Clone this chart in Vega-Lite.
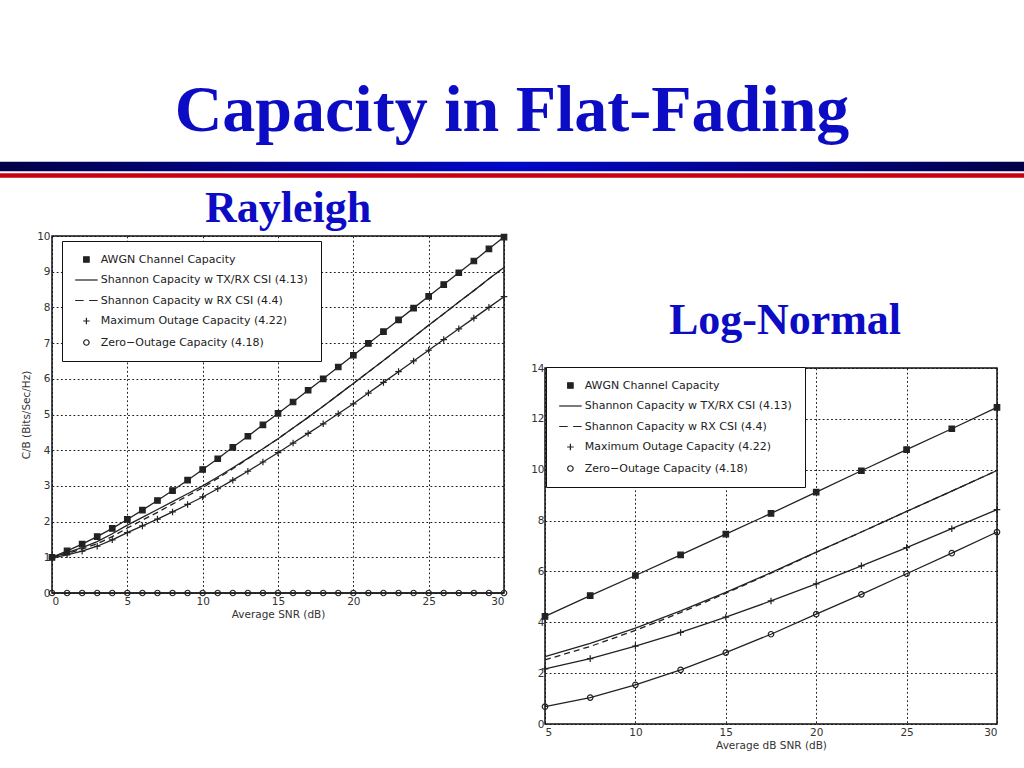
{
  "$schema": "https://vega.github.io/schema/vega-lite/v6.json",
  "background": "white",
  "padding": {"top": 77, "left": 0, "right": 0, "bottom": 0},
  "title": {"text": "Capacity in Flat-Fading", "font": "Liberation Serif", "fontSize": 66, "fontWeight": "bold", "color": "#0c0cc4", "anchor": "middle", "offset": 17},
  "datasets": {
    "rayleigh": [
      {"s":"awgn","x":0,"y":1.0},{"s":"awgn","x":1,"y":1.18},{"s":"awgn","x":2,"y":1.37},{"s":"awgn","x":3,"y":1.58},{"s":"awgn","x":4,"y":1.81},{"s":"awgn","x":5,"y":2.06},{"s":"awgn","x":6,"y":2.32},{"s":"awgn","x":7,"y":2.59},{"s":"awgn","x":8,"y":2.87},{"s":"awgn","x":9,"y":3.16},{"s":"awgn","x":10,"y":3.46},{"s":"awgn","x":11,"y":3.76},{"s":"awgn","x":12,"y":4.08},{"s":"awgn","x":13,"y":4.39},{"s":"awgn","x":14,"y":4.71},{"s":"awgn","x":15,"y":5.03},{"s":"awgn","x":16,"y":5.35},{"s":"awgn","x":17,"y":5.68},{"s":"awgn","x":18,"y":6.0},{"s":"awgn","x":19,"y":6.33},{"s":"awgn","x":20,"y":6.66},{"s":"awgn","x":21,"y":6.99},{"s":"awgn","x":22,"y":7.32},{"s":"awgn","x":23,"y":7.65},{"s":"awgn","x":24,"y":7.98},{"s":"awgn","x":25,"y":8.31},{"s":"awgn","x":26,"y":8.64},{"s":"awgn","x":27,"y":8.97},{"s":"awgn","x":28,"y":9.3},{"s":"awgn","x":29,"y":9.64},{"s":"awgn","x":30,"y":9.97},
      {"s":"txrx","x":0,"y":1.0},{"s":"txrx","x":1,"y":1.13},{"s":"txrx","x":2,"y":1.27},{"s":"txrx","x":3,"y":1.44},{"s":"txrx","x":4,"y":1.66},{"s":"txrx","x":5,"y":1.9},{"s":"txrx","x":6,"y":2.12},{"s":"txrx","x":7,"y":2.34},{"s":"txrx","x":8,"y":2.56},{"s":"txrx","x":9,"y":2.78},{"s":"txrx","x":10,"y":3.0},{"s":"txrx","x":11,"y":3.25},{"s":"txrx","x":12,"y":3.51},{"s":"txrx","x":13,"y":3.77},{"s":"txrx","x":14,"y":4.04},{"s":"txrx","x":15,"y":4.32},{"s":"txrx","x":16,"y":4.62},{"s":"txrx","x":17,"y":4.92},{"s":"txrx","x":18,"y":5.23},{"s":"txrx","x":19,"y":5.55},{"s":"txrx","x":20,"y":5.87},{"s":"txrx","x":21,"y":6.19},{"s":"txrx","x":22,"y":6.51},{"s":"txrx","x":23,"y":6.84},{"s":"txrx","x":24,"y":7.17},{"s":"txrx","x":25,"y":7.5},{"s":"txrx","x":26,"y":7.82},{"s":"txrx","x":27,"y":8.15},{"s":"txrx","x":28,"y":8.47},{"s":"txrx","x":29,"y":8.8},{"s":"txrx","x":30,"y":9.12},
      {"s":"rx","x":0,"y":0.98},{"s":"rx","x":1,"y":1.1},{"s":"rx","x":2,"y":1.23},{"s":"rx","x":3,"y":1.38},{"s":"rx","x":4,"y":1.58},{"s":"rx","x":5,"y":1.82},{"s":"rx","x":6,"y":2.04},{"s":"rx","x":7,"y":2.26},{"s":"rx","x":8,"y":2.49},{"s":"rx","x":9,"y":2.72},{"s":"rx","x":10,"y":2.95},{"s":"rx","x":11,"y":3.21},{"s":"rx","x":12,"y":3.48},{"s":"rx","x":13,"y":3.76},{"s":"rx","x":14,"y":4.04},{"s":"rx","x":15,"y":4.32},{"s":"rx","x":16,"y":4.62},{"s":"rx","x":17,"y":4.92},{"s":"rx","x":18,"y":5.23},{"s":"rx","x":19,"y":5.55},{"s":"rx","x":20,"y":5.87},{"s":"rx","x":21,"y":6.19},{"s":"rx","x":22,"y":6.51},{"s":"rx","x":23,"y":6.84},{"s":"rx","x":24,"y":7.17},{"s":"rx","x":25,"y":7.5},{"s":"rx","x":26,"y":7.82},{"s":"rx","x":27,"y":8.15},{"s":"rx","x":28,"y":8.47},{"s":"rx","x":29,"y":8.8},{"s":"rx","x":30,"y":9.12},
      {"s":"outage","x":0,"y":0.98},{"s":"outage","x":1,"y":1.07},{"s":"outage","x":2,"y":1.17},{"s":"outage","x":3,"y":1.31},{"s":"outage","x":4,"y":1.49},{"s":"outage","x":5,"y":1.69},{"s":"outage","x":6,"y":1.88},{"s":"outage","x":7,"y":2.07},{"s":"outage","x":8,"y":2.27},{"s":"outage","x":9,"y":2.48},{"s":"outage","x":10,"y":2.69},{"s":"outage","x":11,"y":2.92},{"s":"outage","x":12,"y":3.16},{"s":"outage","x":13,"y":3.41},{"s":"outage","x":14,"y":3.67},{"s":"outage","x":15,"y":3.93},{"s":"outage","x":16,"y":4.2},{"s":"outage","x":17,"y":4.47},{"s":"outage","x":18,"y":4.74},{"s":"outage","x":19,"y":5.02},{"s":"outage","x":20,"y":5.3},{"s":"outage","x":21,"y":5.6},{"s":"outage","x":22,"y":5.9},{"s":"outage","x":23,"y":6.2},{"s":"outage","x":24,"y":6.5},{"s":"outage","x":25,"y":6.8},{"s":"outage","x":26,"y":7.1},{"s":"outage","x":27,"y":7.4},{"s":"outage","x":28,"y":7.7},{"s":"outage","x":29,"y":8.0},{"s":"outage","x":30,"y":8.3},
      {"s":"zero","x":0,"y":0},{"s":"zero","x":1,"y":0},{"s":"zero","x":2,"y":0},{"s":"zero","x":3,"y":0},{"s":"zero","x":4,"y":0},{"s":"zero","x":5,"y":0},{"s":"zero","x":6,"y":0},{"s":"zero","x":7,"y":0},{"s":"zero","x":8,"y":0},{"s":"zero","x":9,"y":0},{"s":"zero","x":10,"y":0},{"s":"zero","x":11,"y":0},{"s":"zero","x":12,"y":0},{"s":"zero","x":13,"y":0},{"s":"zero","x":14,"y":0},{"s":"zero","x":15,"y":0},{"s":"zero","x":16,"y":0},{"s":"zero","x":17,"y":0},{"s":"zero","x":18,"y":0},{"s":"zero","x":19,"y":0},{"s":"zero","x":20,"y":0},{"s":"zero","x":21,"y":0},{"s":"zero","x":22,"y":0},{"s":"zero","x":23,"y":0},{"s":"zero","x":24,"y":0},{"s":"zero","x":25,"y":0},{"s":"zero","x":26,"y":0},{"s":"zero","x":27,"y":0},{"s":"zero","x":28,"y":0},{"s":"zero","x":29,"y":0},{"s":"zero","x":30,"y":0}
    ],
    "lognormal": [
      {"s":"awgn","x":5,"y":4.23},{"s":"awgn","x":7.5,"y":5.05},{"s":"awgn","x":10,"y":5.84},{"s":"awgn","x":12.5,"y":6.65},{"s":"awgn","x":15,"y":7.47},{"s":"awgn","x":17.5,"y":8.28},{"s":"awgn","x":20,"y":9.12},{"s":"awgn","x":22.5,"y":9.96},{"s":"awgn","x":25,"y":10.79},{"s":"awgn","x":27.5,"y":11.61},{"s":"awgn","x":30,"y":12.45},
      {"s":"txrx","x":5,"y":2.65},{"s":"txrx","x":7.5,"y":3.17},{"s":"txrx","x":10,"y":3.77},{"s":"txrx","x":12.5,"y":4.45},{"s":"txrx","x":15,"y":5.18},{"s":"txrx","x":17.5,"y":5.95},{"s":"txrx","x":20,"y":6.76},{"s":"txrx","x":22.5,"y":7.55},{"s":"txrx","x":25,"y":8.36},{"s":"txrx","x":27.5,"y":9.16},{"s":"txrx","x":30,"y":9.97},
      {"s":"rx","x":5,"y":2.52},{"s":"rx","x":7.5,"y":3.05},{"s":"rx","x":10,"y":3.68},{"s":"rx","x":12.5,"y":4.38},{"s":"rx","x":15,"y":5.14},{"s":"rx","x":17.5,"y":5.93},{"s":"rx","x":20,"y":6.75},{"s":"rx","x":22.5,"y":7.55},{"s":"rx","x":25,"y":8.36},{"s":"rx","x":27.5,"y":9.16},{"s":"rx","x":30,"y":9.97},
      {"s":"outage","x":5,"y":2.17},{"s":"outage","x":7.5,"y":2.57},{"s":"outage","x":10,"y":3.06},{"s":"outage","x":12.5,"y":3.6},{"s":"outage","x":15,"y":4.2},{"s":"outage","x":17.5,"y":4.84},{"s":"outage","x":20,"y":5.51},{"s":"outage","x":22.5,"y":6.22},{"s":"outage","x":25,"y":6.94},{"s":"outage","x":27.5,"y":7.68},{"s":"outage","x":30,"y":8.43},
      {"s":"zero","x":5,"y":0.68},{"s":"zero","x":7.5,"y":1.04},{"s":"zero","x":10,"y":1.54},{"s":"zero","x":12.5,"y":2.13},{"s":"zero","x":15,"y":2.81},{"s":"zero","x":17.5,"y":3.53},{"s":"zero","x":20,"y":4.32},{"s":"zero","x":22.5,"y":5.1},{"s":"zero","x":25,"y":5.91},{"s":"zero","x":27.5,"y":6.72},{"s":"zero","x":30,"y":7.55}
    ]
  },
  "spacing": 6,
  "vconcat": [
    {
      "width": 972,
      "height": 18,
      "view": {"stroke": null},
      "data": {"values": [{"stripe": "blue"}, {"stripe": "red"}]},
      "layer": [
        {
          "transform": [{"filter": "datum.stripe == 'blue'"}],
          "mark": {"type": "rect", "height": 9.5, "color": {"gradient": "linear", "x1": 0, "y1": 0, "x2": 1, "y2": 0, "stops": [{"offset": 0, "color": "#000048"}, {"offset": 0.5, "color": "#0008c8"}, {"offset": 1, "color": "#000048"}]}},
          "encoding": {
            "x": {"datum": 0, "type": "quantitative", "scale": {"domain": [52, 1024], "zero": false}, "axis": null},
            "x2": {"datum": 1024},
            "y": {"field": "stripe", "type": "nominal", "scale": {"domain": ["blue", "red"], "paddingInner": 0, "paddingOuter": 0}, "axis": null}
          }
        },
        {
          "transform": [{"filter": "datum.stripe == 'red'"}],
          "mark": {"type": "rect", "height": 4.5, "color": "#c80010"},
          "encoding": {
            "x": {"datum": 0, "type": "quantitative", "scale": {"domain": [52, 1024], "zero": false}, "axis": null},
            "x2": {"datum": 1024},
            "y": {"field": "stripe", "type": "nominal", "scale": {"domain": ["blue", "red"], "paddingInner": 0, "paddingOuter": 0}, "axis": null}
          }
        }
      ]
    },
    {
      "spacing": 18,
      "resolve": {"scale": {"x": "independent", "y": "independent", "shape": "independent", "fill": "independent", "stroke": "independent"}},
      "hconcat": [
        {
          "width": 452,
          "height": 357,
          "title": {"text": "Rayleigh", "font": "Liberation Serif", "fontSize": 44, "fontWeight": "bold", "color": "#0c0cc4", "anchor": "middle", "frame": "group", "dx": 10, "offset": 0},
          "data": {"name": "rayleigh"},
          "encoding": {
            "x": {"field": "x", "type": "quantitative", "scale": {"domain": [0, 30], "nice": false}, "axis": {"values": [0, 5, 10, 15, 20, 25, 30], "title": "Average SNR (dB)", "labelPadding": 3, "titlePadding": 3}},
            "y": {"field": "y", "type": "quantitative", "scale": {"domain": [0, 10], "nice": false}, "axis": {"values": [0, 1, 2, 3, 4, 5, 6, 7, 8, 9, 10], "title": ["", "C/B (Bits/Sec/Hz)"], "titleLineHeight": 16, "labelPadding": 2, "titlePadding": 5}}
          },
          "layer": [
            {
              "transform": [{"filter": "datum.s != 'rx'"}],
              "mark": {"type": "line", "color": "#222", "strokeWidth": 1.3},
              "encoding": {"detail": {"field": "s", "type": "nominal"}}
            },
            {
              "transform": [{"filter": "datum.s == 'rx'"}],
              "mark": {"type": "line", "color": "#222", "strokeWidth": 1.3, "strokeDash": [6, 4]},
              "encoding": {}
            },
            {
              "transform": [{"filter": "datum.s == 'awgn' || datum.s == 'outage' || datum.s == 'zero'"}],
              "mark": {"type": "point", "filled": false, "strokeWidth": 1.2, "size": 30, "opacity": 1},
              "encoding": {
                "shape": {"field": "s", "type": "nominal", "scale": {"domain": ["awgn", "txrx", "rx", "outage", "zero"], "range": ["square", "M-4.1,0H4.1", "M-4.1,0H-1M1,0H4.1", "M-1.2,0H1.2M0,-1.2V1.2", "circle"]}, "legend": {"title": null, "orient": "none", "legendX": 10, "legendY": 5, "labelExpr": "datum.label == 'awgn' ? 'AWGN Channel Capacity' : datum.label == 'txrx' ? 'Shannon Capacity w TX/RX CSI (4.13)' : datum.label == 'rx' ? 'Shannon Capacity w RX CSI (4.4)' : datum.label == 'outage' ? 'Maximum Outage Capacity (4.22)' : 'Zero\u2212Outage Capacity (4.18)'"}},
                "fill": {"field": "s", "type": "nominal", "scale": {"domain": ["awgn", "txrx", "rx", "outage", "zero"], "range": ["#222", "transparent", "transparent", "transparent", "transparent"]}, "legend": {"title": null, "orient": "none", "legendX": 10, "legendY": 5, "labelExpr": "datum.label == 'awgn' ? 'AWGN Channel Capacity' : datum.label == 'txrx' ? 'Shannon Capacity w TX/RX CSI (4.13)' : datum.label == 'rx' ? 'Shannon Capacity w RX CSI (4.4)' : datum.label == 'outage' ? 'Maximum Outage Capacity (4.22)' : 'Zero\u2212Outage Capacity (4.18)'"}},
                "stroke": {"field": "s", "type": "nominal", "scale": {"domain": ["awgn", "txrx", "rx", "outage", "zero"], "range": ["#222", "#222", "#222", "#222", "#222"]}, "legend": {"title": null, "orient": "none", "legendX": 10, "legendY": 5, "labelExpr": "datum.label == 'awgn' ? 'AWGN Channel Capacity' : datum.label == 'txrx' ? 'Shannon Capacity w TX/RX CSI (4.13)' : datum.label == 'rx' ? 'Shannon Capacity w RX CSI (4.4)' : datum.label == 'outage' ? 'Maximum Outage Capacity (4.22)' : 'Zero\u2212Outage Capacity (4.18)'"}}
              }
            }
          ]
        },
        {
          "spacing": 0,
          "resolve": {"scale": {"x": "independent", "y": "independent", "shape": "independent", "fill": "independent", "stroke": "independent"}},
          "vconcat": [
            {
              "width": 452,
              "height": 126,
              "view": {"stroke": null},
              "data": {"values": [{"label": "Log-Normal"}]},
              "mark": {"type": "text", "font": "Liberation Serif", "fontSize": 44, "fontWeight": "bold", "color": "#0c0cc4", "baseline": "top", "align": "center", "dx": 14},
              "encoding": {"text": {"field": "label", "type": "nominal"}}
            },
            {
              "width": 452,
              "height": 356,
              "data": {"name": "lognormal"},
              "encoding": {
                "x": {"field": "x", "type": "quantitative", "scale": {"domain": [5, 30], "nice": false, "zero": false}, "axis": {"values": [5, 10, 15, 20, 25, 30], "title": "Average dB SNR (dB)", "labelPadding": 3, "titlePadding": 3}},
                "y": {"field": "y", "type": "quantitative", "scale": {"domain": [0, 14], "nice": false}, "axis": {"values": [0, 2, 4, 6, 8, 10, 12, 14], "title": null, "labelPadding": 1}}
              },
              "layer": [
                {
                  "transform": [{"filter": "datum.s != 'rx'"}],
                  "mark": {"type": "line", "color": "#222", "strokeWidth": 1.3},
                  "encoding": {"detail": {"field": "s", "type": "nominal"}}
                },
                {
                  "transform": [{"filter": "datum.s == 'rx'"}],
                  "mark": {"type": "line", "color": "#222", "strokeWidth": 1.3, "strokeDash": [6, 4]},
                  "encoding": {}
                },
                {
                  "transform": [{"filter": "datum.s == 'awgn' || datum.s == 'outage' || datum.s == 'zero'"}],
                  "mark": {"type": "point", "filled": false, "strokeWidth": 1.2, "size": 30, "opacity": 1},
                  "encoding": {
                    "shape": {"field": "s", "type": "nominal", "scale": {"domain": ["awgn", "txrx", "rx", "outage", "zero"], "range": ["square", "M-4.1,0H4.1", "M-4.1,0H-1M1,0H4.1", "M-1.2,0H1.2M0,-1.2V1.2", "circle"]}, "legend": {"title": null, "orient": "none", "legendX": 1, "legendY": -1, "labelExpr": "datum.label == 'awgn' ? 'AWGN Channel Capacity' : datum.label == 'txrx' ? 'Shannon Capacity w TX/RX CSI (4.13)' : datum.label == 'rx' ? 'Shannon Capacity w RX CSI (4.4)' : datum.label == 'outage' ? 'Maximum Outage Capacity (4.22)' : 'Zero\u2212Outage Capacity (4.18)'"}},
                    "fill": {"field": "s", "type": "nominal", "scale": {"domain": ["awgn", "txrx", "rx", "outage", "zero"], "range": ["#222", "transparent", "transparent", "transparent", "transparent"]}, "legend": {"title": null, "orient": "none", "legendX": 1, "legendY": -1, "labelExpr": "datum.label == 'awgn' ? 'AWGN Channel Capacity' : datum.label == 'txrx' ? 'Shannon Capacity w TX/RX CSI (4.13)' : datum.label == 'rx' ? 'Shannon Capacity w RX CSI (4.4)' : datum.label == 'outage' ? 'Maximum Outage Capacity (4.22)' : 'Zero\u2212Outage Capacity (4.18)'"}},
                    "stroke": {"field": "s", "type": "nominal", "scale": {"domain": ["awgn", "txrx", "rx", "outage", "zero"], "range": ["#222", "#222", "#222", "#222", "#222"]}, "legend": {"title": null, "orient": "none", "legendX": 1, "legendY": -1, "labelExpr": "datum.label == 'awgn' ? 'AWGN Channel Capacity' : datum.label == 'txrx' ? 'Shannon Capacity w TX/RX CSI (4.13)' : datum.label == 'rx' ? 'Shannon Capacity w RX CSI (4.4)' : datum.label == 'outage' ? 'Maximum Outage Capacity (4.22)' : 'Zero\u2212Outage Capacity (4.18)'"}}
                  }
                }
              ]
            }
          ]
        }
      ]
    }
  ],
  "resolve": {"scale": {"x": "independent", "y": "independent", "shape": "independent", "fill": "independent", "stroke": "independent"}},
  "config": {
    "font": "DejaVu Sans",
    "view": {"stroke": "#111", "strokeWidth": 1.5},
    "axis": {"grid": true, "gridColor": "#111", "gridDash": [1.8, 2.4], "gridWidth": 1, "gridOpacity": 0.95, "domain": false, "ticks": false, "labelFont": "DejaVu Sans", "labelFontSize": 10.5, "labelColor": "#333", "titleFont": "DejaVu Sans", "titleFontSize": 10.5, "titleFontWeight": "normal", "titleColor": "#333"},
    "legend": {
      "fillColor": "white",
      "strokeColor": "#111",
      "padding": 13,
      "rowPadding": 8.5,
      "labelFont": "DejaVu Sans",
      "labelFontSize": 11,
      "labelColor": "#222",
      "labelLimit": 400,
      "symbolSize": 30,
      "symbolStrokeColor": "#222",
      "symbolStrokeWidth": 1.2,
      "symbolOffset": 5.9,
      "labelOffset": 8.8
    }
  }
}
